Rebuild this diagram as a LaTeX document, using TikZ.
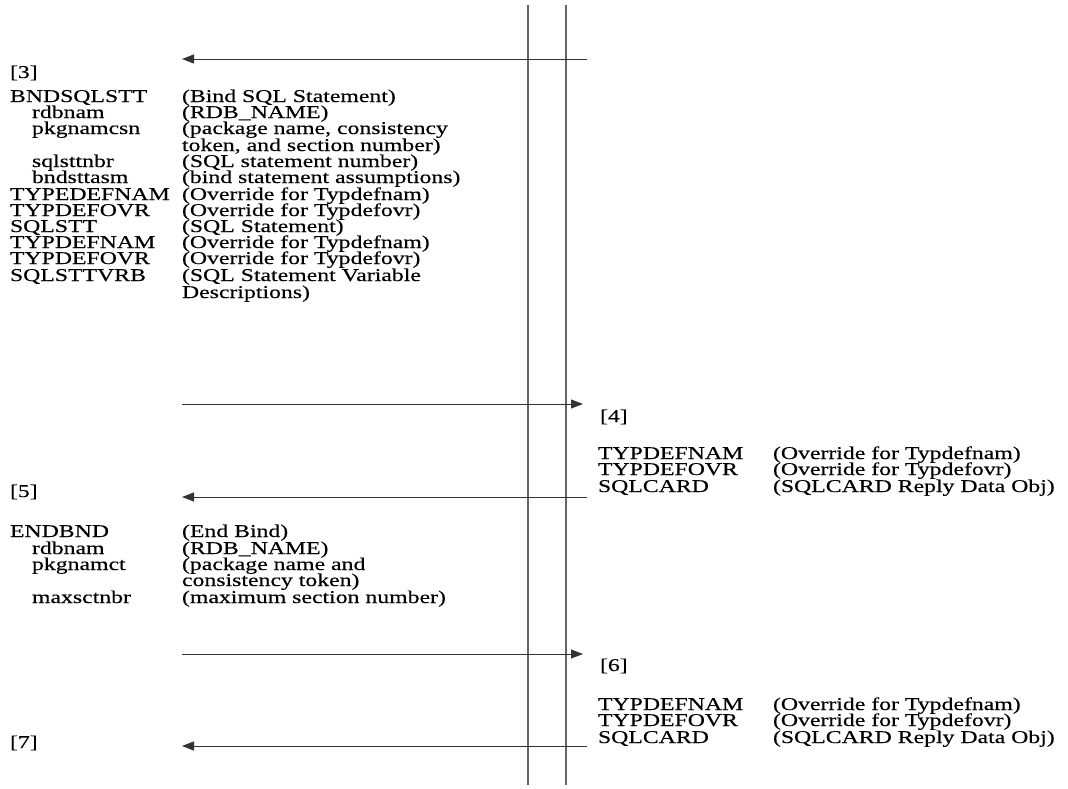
\documentclass[tikz,border=0pt]{standalone}
\usepackage{fontspec}
\setmainfont[FakeStretch=1.32,FakeBold=0.3]{Liberation Serif}
\usetikzlibrary{arrows.meta}

\begin{document}
\begin{tikzpicture}[x=1pt,y=-1pt,
  font=\fontsize{18}{16.3}\selectfont,
  txt/.style={anchor=base west, inner sep=0pt, outer sep=0pt},
  life/.style={draw=black!60, line width=1.2pt},
  msg/.style={draw=black!80, line width=1pt, -{Triangle[length=12pt,width=9pt]}}]
\useasboundingbox (0,0) rectangle (1068,788);

% two lifelines
\coordinate (la) at (528,5);   \coordinate (lb) at (528,785);
\coordinate (ra) at (566,5);   \coordinate (rb) at (566,785);
\draw[life] (la) -- (lb);
\draw[life] (ra) -- (rb);

% message end points
\coordinate (m3s) at (587,59);  \coordinate (m3e) at (182,59);
\coordinate (m4s) at (182,404); \coordinate (m4e) at (583,404);
\coordinate (m5s) at (587,497); \coordinate (m5e) at (182,497);
\coordinate (m6s) at (182,654); \coordinate (m6e) at (583,654);
\coordinate (m7s) at (587,746); \coordinate (m7e) at (182,746);
\draw[msg] (m3s) -- (m3e);
\draw[msg] (m4s) -- (m4e);
\draw[msg] (m5s) -- (m5e);
\draw[msg] (m6s) -- (m6e);
\draw[msg] (m7s) -- (m7e);

\begin{scope}[yshift=-1pt]
% step [3]: BNDSQLSTT
\node[txt] (s3) at (10,77) {[3]};
\node[txt] (a1)  at (10,101) {BNDSQLSTT};   \node[txt] (a1d)  at (182,101) {(Bind SQL Statement)};
\node[txt] (a2)  at (32,117) {rdbnam};      \node[txt] (a2d)  at (182,117) {(RDB\_NAME)};
\node[txt] (a3)  at (32,133) {pkgnamcsn};   \node[txt] (a3d)  at (182,133) {(package name, consistency};
                                            \node[txt] (a3e)  at (182,150) {token, and section number)};
\node[txt] (a4)  at (32,166) {sqlsttnbr};   \node[txt] (a4d)  at (182,166) {(SQL statement number)};
\node[txt] (a5)  at (32,182) {bndsttasm};   \node[txt] (a5d)  at (182,182) {(bind statement assumptions)};
\node[txt] (a6)  at (10,199) {TYPEDEFNAM};  \node[txt] (a6d)  at (182,199) {(Override for Typdefnam)};
\node[txt] (a7)  at (10,215) {TYPDEFOVR};   \node[txt] (a7d)  at (182,215) {(Override for Typdefovr)};
\node[txt] (a8)  at (10,231) {SQLSTT};      \node[txt] (a8d)  at (182,231) {(SQL Statement)};
\node[txt] (a9)  at (10,247) {TYPDEFNAM};   \node[txt] (a9d)  at (182,247) {(Override for Typdefnam)};
\node[txt] (a10) at (10,263) {TYPDEFOVR};   \node[txt] (a10d) at (182,263) {(Override for Typdefovr)};
\node[txt] (a11) at (10,280) {SQLSTTVRB};   \node[txt] (a11d) at (182,280) {(SQL Statement Variable};
                                            \node[txt] (a11e) at (182,297) {Descriptions)};

% step [4]: reply
\node[txt] (s4) at (600,421) {[4]};
\node[txt] (b1) at (598,458) {TYPDEFNAM};   \node[txt] (b1d) at (773,458) {(Override for Typdefnam)};
\node[txt] (b2) at (598,474) {TYPDEFOVR};   \node[txt] (b2d) at (773,474) {(Override for Typdefovr)};
\node[txt] (b3) at (598,491) {SQLCARD};     \node[txt] (b3d) at (773,491) {(SQLCARD Reply Data Obj)};

% step [5]: ENDBND
\node[txt] (s5) at (10,496) {[5]};
\node[txt] (c1) at (10,536) {ENDBND};       \node[txt] (c1d) at (182,536) {(End Bind)};
\node[txt] (c2) at (32,553) {rdbnam};       \node[txt] (c2d) at (182,553) {(RDB\_NAME)};
\node[txt] (c3) at (32,569) {pkgnamct};     \node[txt] (c3d) at (182,569) {(package name and};
                                            \node[txt] (c3e) at (182,585) {consistency token)};
\node[txt] (c4) at (32,602) {maxsctnbr};    \node[txt] (c4d) at (182,602) {(maximum section number)};

% step [6]: reply
\node[txt] (s6) at (600,670) {[6]};
\node[txt] (d1) at (598,709) {TYPDEFNAM};   \node[txt] (d1d) at (773,709) {(Override for Typdefnam)};
\node[txt] (d2) at (598,725) {TYPDEFOVR};   \node[txt] (d2d) at (773,725) {(Override for Typdefovr)};
\node[txt] (d3) at (598,742) {SQLCARD};     \node[txt] (d3d) at (773,742) {(SQLCARD Reply Data Obj)};

% step [7]
\node[txt] (s7) at (10,747) {[7]};
\end{scope}
\end{tikzpicture}
\end{document}
